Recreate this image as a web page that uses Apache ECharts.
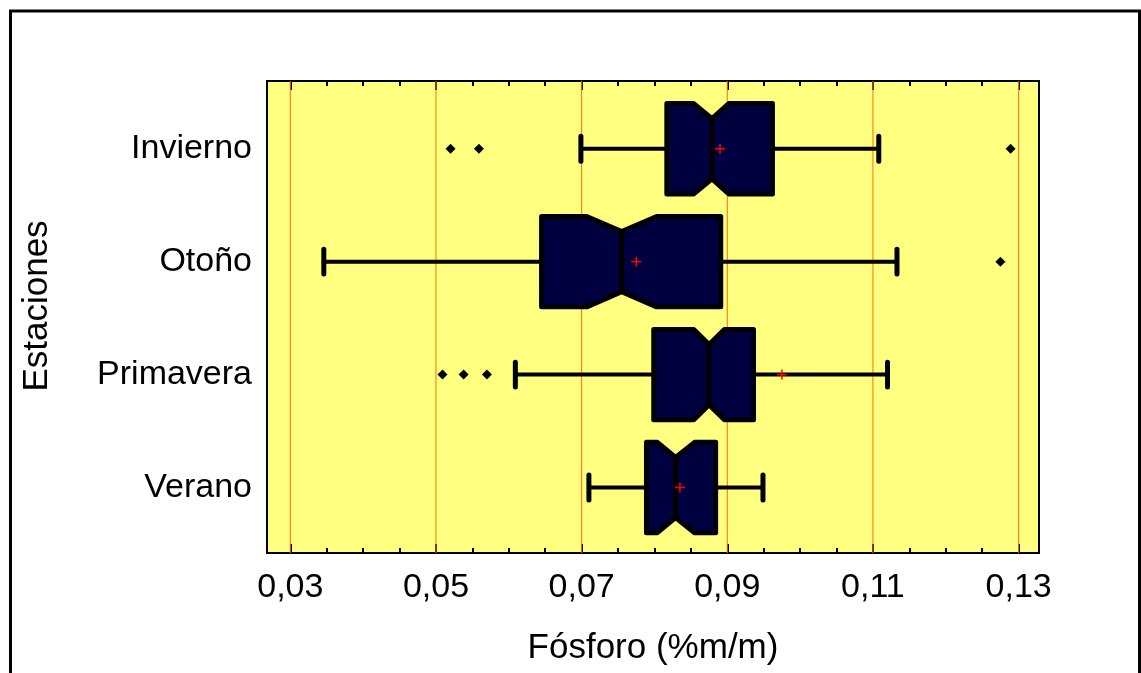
<!DOCTYPE html>
<html>
<head>
<meta charset="utf-8">
<script src="https://cdn.jsdelivr.net/npm/echarts@6/dist/echarts.min.js"></script>
<style>
html,body{margin:0;padding:0;background:#fff;}
#chart{width:1141px;height:673px;}
</style>
</head>
<body>
<div id="chart"></div>
<script>
// ---- data ----
const categories = ['Invierno', 'Otoño', 'Primavera', 'Verano'];
const lowerWhisker = [0.0699, 0.0346, 0.0609, 0.0710];
const q1Values     = [0.0817, 0.0645, 0.0799, 0.0789];
const medians      = [0.0879, 0.0755, 0.0875, 0.0829];
const q3Values     = [0.0962, 0.0891, 0.0936, 0.0884];
const upperWhisker = [0.1108, 0.1133, 0.1120, 0.0949];
const notchLow     = [0.0854, 0.0707, 0.0854, 0.0804];
const notchHigh    = [0.0902, 0.0803, 0.0896, 0.0855];
const means        = [0.0890, 0.0775, 0.0975, 0.0835];
const outliers = [
  [0.0520, 0.0559, 0.1289],
  [0.1275],
  [0.0509, 0.0538, 0.0570],
  []
];
const xTicks = [0.03, 0.05, 0.07, 0.09, 0.11, 0.13];
const xMinorTicks = [0.035, 0.04, 0.045, 0.055, 0.06, 0.065, 0.075, 0.08, 0.085,
                     0.095, 0.10, 0.105, 0.115, 0.12, 0.125];
const xTitle = 'Fósforo (%m/m)';
const yTitle = 'Estaciones';

// ---- build options ----
const FONT = "'Liberation Sans', Arial, sans-serif";
const nCat = categories.length;
const posOf = i => nCat - i;

const boxData = categories.map((c, i) => [
  lowerWhisker[i], q1Values[i], medians[i], q3Values[i], upperWhisker[i],
  notchLow[i], notchHigh[i], means[i], posOf(i)
]);

const outlierData = [];
outliers.forEach((arr, i) => arr.forEach(v => outlierData.push([v, posOf(i)])));

const XMIN = 0.0268, XMAX = 0.1328;

function xAxisBase(position, values, len) {
  return {
    type: 'value', position: position, min: XMIN, max: XMAX,
    axisLine: {show: false},
    splitLine: {show: false},
    axisTick: {show: true, inside: true, length: len, customValues: values,
               lineStyle: {color: '#000', width: 2}},
    axisLabel: {show: false}
  };
}

const xAxes = [
  Object.assign(xAxisBase('bottom', xTicks, 9), {
    axisLabel: {
      show: true, customValues: xTicks, margin: 18,
      fontSize: 34, fontFamily: FONT, color: '#000',
      formatter: v => v.toFixed(2).replace('.', ',')
    },
    name: xTitle, nameLocation: 'middle', nameGap: 78,
    nameTextStyle: {fontSize: 35, fontFamily: FONT, color: '#000'}
  }),
  xAxisBase('bottom', xMinorTicks, 5),
  xAxisBase('top', xTicks, 9),
  xAxisBase('top', xMinorTicks, 5)
];

function renderBox(params, api) {
  const pos = api.value(8);
  const lw = api.value(0), q1 = api.value(1), med = api.value(2), q3 = api.value(3),
        uw = api.value(4), nl = api.value(5), nh = api.value(6), mean = api.value(7);
  const h = 0.4, d = 0.133, cap = 0.11;
  const P = (x, dy) => api.coord([x, pos + dy]);
  const black = '#000';
  const line = (a, b, w, capStyle) => ({
    type: 'line',
    shape: {x1: a[0], y1: a[1], x2: b[0], y2: b[1]},
    style: {stroke: black, lineWidth: w, lineCap: capStyle || 'butt'}
  });
  const poly = [
    P(q1, h), P(nl, h), P(med, h - d), P(nh, h), P(q3, h),
    P(q3, -h), P(nh, -h), P(med, -h + d), P(nl, -h), P(q1, -h)
  ];
  const m = P(mean, 0);
  const ms = 5;
  return {
    type: 'group',
    children: [
      line(P(lw, 0), P(q1, 0), 4),
      line(P(q3, 0), P(uw, 0), 4),
      line(P(lw, -cap), P(lw, cap), 5, 'round'),
      line(P(uw, -cap), P(uw, cap), 5, 'round'),
      {
        type: 'polygon',
        shape: {points: poly},
        style: {fill: '#000040', stroke: black, lineWidth: 5, lineJoin: 'round'}
      },
      line(P(med, h - d), P(med, -h + d), 5),
      {
        type: 'line',
        shape: {x1: m[0] - ms, y1: m[1], x2: m[0] + ms, y2: m[1]},
        style: {stroke: '#FF0000', lineWidth: 1.5}
      },
      {
        type: 'line',
        shape: {x1: m[0], y1: m[1] - ms, x2: m[0], y2: m[1] + ms},
        style: {stroke: '#FF0000', lineWidth: 1.5}
      }
    ]
  };
}

function renderGridLine(params, api) {
  const cs = params.coordSys;
  const p = api.coord([api.value(0), 1]);
  return {
    type: 'line',
    shape: {x1: p[0], y1: cs.y, x2: p[0], y2: cs.y + cs.height},
    style: {stroke: '#FF7000', lineWidth: 1}
  };
}

const option = {
  backgroundColor: '#ffffff',
  animation: false,
  grid: {
    left: 267, right: 102, top: 81, bottom: 120,
    show: true, backgroundColor: '#FFFF80', borderColor: '#000', borderWidth: 2
  },
  xAxis: xAxes,
  yAxis: {
    type: 'value', min: 0.42, max: 4.6,
    axisLine: {show: false}, axisTick: {show: false}, splitLine: {show: false},
    axisLabel: {
      show: true, customValues: [1, 2, 3, 4], margin: 15,
      fontSize: 34, fontFamily: FONT, color: '#000',
      padding: [4, 0, 0, 0],
      formatter: v => categories[nCat - v]
    }
  },
  graphic: [
    {
      type: 'rect', z: 100, silent: true,
      shape: {x: 10.5, y: 11, width: 1129, height: 700},
      style: {fill: 'none', stroke: '#000', lineWidth: 3}
    },
    {
      type: 'text', x: 37, y: 306, rotation: Math.PI / 2,
      style: {text: yTitle, fontSize: 35, fontFamily: FONT, fill: '#000',
              align: 'center', verticalAlign: 'middle'}
    }
  ],
  series: [
    {
      type: 'custom', name: 'grid', z: 1, silent: true,
      xAxisIndex: 0, yAxisIndex: 0,
      data: xTicks.map(v => [v]),
      encode: {x: 0},
      renderItem: renderGridLine
    },
    {
      type: 'custom', name: 'box', z: 3, silent: true,
      xAxisIndex: 0, yAxisIndex: 0,
      data: boxData,
      encode: {x: [0, 1, 2, 3, 4, 5, 6, 7], y: 8},
      renderItem: renderBox
    },
    {
      type: 'scatter', name: 'outliers', z: 4, silent: true,
      xAxisIndex: 0, yAxisIndex: 0,
      symbol: 'diamond', symbolSize: 10,
      itemStyle: {color: '#000', opacity: 1},
      data: outlierData
    }
  ]
};

const chart = echarts.init(document.getElementById('chart'), null, {renderer: 'canvas'});
chart.setOption(option);
</script>
</body>
</html>
